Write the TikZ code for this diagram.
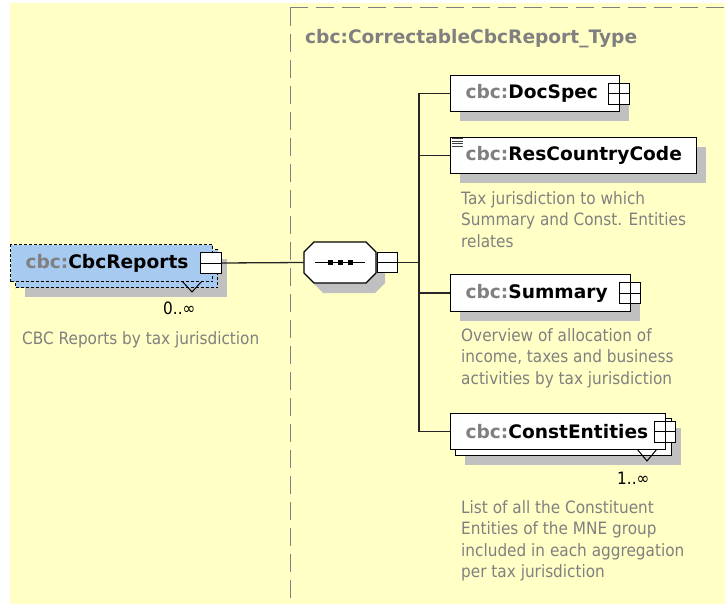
\documentclass[tikz,border=0pt]{standalone}
\usepackage{fontspec}
\setmainfont{DejaVu Sans}
\newfontfamily\descfont[FakeStretch=0.9]{DejaVu Sans}
\usetikzlibrary{shadows}
\definecolor{bg}{HTML}{FFFFC6}
\definecolor{pfx}{HTML}{808080}
\definecolor{desc}{HTML}{808080}
\definecolor{shadowgray}{HTML}{C0C0C0}
\definecolor{selblue}{HTML}{A6CAF0}
\definecolor{typeline}{HTML}{808080}
\newcommand\elname[2]{\makebox[#1][l]{\textcolor{pfx}{cbc:}\textcolor{black}{#2}}}
\begin{document}
\begin{tikzpicture}[x=1pt,y=-1pt,
  elem/.style={draw=black, line width=1.2pt, fill=white, anchor=north west, inner xsep=15pt, inner ysep=0pt, font=\fontsize{18.6}{22}\selectfont\bfseries},
  shadowed/.style={drop shadow={shadow xshift=9pt, shadow yshift=-9pt, fill=shadowgray, opacity=1}},
  selbox/.style={elem, fill=selblue, draw=black, line width=1pt, dash pattern=on 3pt off 2pt},
  pm/.style={draw=black, line width=1pt, fill=white, minimum width=21pt, minimum height=21pt, inner sep=0pt},
  plus/.style={pm, path picture={\draw[line width=1pt] (path picture bounding box.west) -- (path picture bounding box.east) (path picture bounding box.north) -- (path picture bounding box.south);}},
  minus/.style={pm, path picture={\draw[line width=1pt] (path picture bounding box.west) -- (path picture bounding box.east);}},
  descr/.style={anchor=north west, inner sep=0pt, align=left, text=desc, font=\descfont\fontsize{17}{21.5}\selectfont},
  mult/.style={anchor=base west, inner sep=0pt, font=\descfont\fontsize{17}{20}\selectfont},
  conn/.style={draw=black!85, line width=1.3pt},
  typedash/.style={draw=typeline, line width=1pt, dash pattern=on 18pt off 8pt},
]
\useasboundingbox (0,0) rectangle (725,604);
\fill[white] (0,0) rectangle (725,604);
\fill[bg] (10,3) rectangle (725,604);

% complex type frame
\draw[typedash] (290,8) -- (725,8);
\draw[typedash] (290,8) -- (290,604);
\node[anchor=base west, inner sep=0pt, text=pfx, font=\fontsize{18.6}{22}\selectfont\bfseries] (title) at (305,44) {cbc:CorrectableCbcReport\_Type};

% CbcReports
\node[selbox, shadowed, minimum width=202pt, minimum height=38pt] (cbcback) at (15,249) {};
\draw[line width=1pt] (182,281) -- (192,292) -- (202,281);
\node[selbox, minimum width=202pt, minimum height=37pt] (cbcrep) at (10,244) {\elname{172pt}{CbcReports}};
\node[minus] (cbcm) at ([xshift=-2pt]cbcrep.east) {};
\node[mult] (cbcmult) at (163,314) {0..∞};
\node[anchor=base west, inner sep=0pt, text=desc, font=\descfont\fontsize{17}{20}\selectfont] (cbcd) at (22,344) {CBC Reports by tax jurisdiction};

% sequence compositor
\node[inner sep=0pt, minimum width=72pt, minimum height=41pt] (seq) at (340,262.5) {};
\begin{scope}[shift={(seq.center)}]
  \fill[shadowgray] (-17,-10.5) -- (35,-10.5) -- (45,-0.5) -- (45,20.5) -- (35,30.5) -- (-17,30.5) -- (-27,20.5) -- (-27,-0.5) -- cycle;
  \filldraw[fill=white, draw=black, line width=1.2pt] (-26,-20.5) -- (26,-20.5) -- (36,-10.5) -- (36,10.5) -- (26,20.5) -- (-26,20.5) -- (-36,10.5) -- (-36,-10.5) -- cycle;
  \draw[line width=1pt] (-25,0) -- (25,0);
  \fill (-12.5,-2.5) rectangle (-7.5,2.5);
  \fill (-2.5,-2.5) rectangle (2.5,2.5);
  \fill (8,-2.5) rectangle (13,2.5);
\end{scope}
\node[minus, minimum width=20pt, minimum height=20pt] (seqm) at (387,262.5) {};
\draw[conn] (cbcm.east) -- (seq.west);

% children
\node[elem, shadowed, minimum height=36pt] (docspec) at (450,75) {\elname{139pt}{DocSpec}};
\node[plus] (docspecp) at ([xshift=-1pt]docspec.east) {};

\node[elem, shadowed, minimum height=36pt] (rescc) at (450,137) {\elname{216pt}{ResCountryCode}};
\foreach \yy in {139,141.5,144,146.5} \draw[black!75, line width=1pt] (452,\yy) -- (463,\yy);
\node[descr] (resccd) at (461,191) {Tax jurisdiction to which\\Summary and Const. Entities\\relates};

\node[elem, shadowed, minimum height=37pt] (summary) at (450,274) {\elname{150pt}{Summary}};
\node[plus] (summaryp) at ([xshift=-1pt]summary.east) {};
\node[descr] (summaryd) at (461,328) {Overview of allocation of\\income, taxes and business\\activities by tax jurisdiction};

\node[elem, shadowed, minimum width=216pt, minimum height=37pt] (constback) at (455,418) {};
\draw[line width=1pt] (637,449) -- (647,461) -- (657,449);
\node[elem, minimum height=36pt] (constent) at (450,413) {\elname{185pt}{ConstEntities}};
\node[plus] (constp) at ([xshift=-1pt]constent.east) {};
\node[mult] (constmult) at (617,484) {1..∞};
\node[descr] (constd) at (461,500) {List of all the Constituent\\Entities of the MNE group\\included in each aggregation\\per tax jurisdiction};

% connectors
\coordinate (tr) at (419,262.5);
\draw[conn] (seqm.east) -- (tr);
\draw[conn] (docspec.west) -- (docspec.west -| tr) -- (constent.west -| tr) -- (constent.west);
\draw[conn] (rescc.west) -- (rescc.west -| tr);
\draw[conn] (summary.west) -- (summary.west -| tr);
\end{tikzpicture}
\end{document}
